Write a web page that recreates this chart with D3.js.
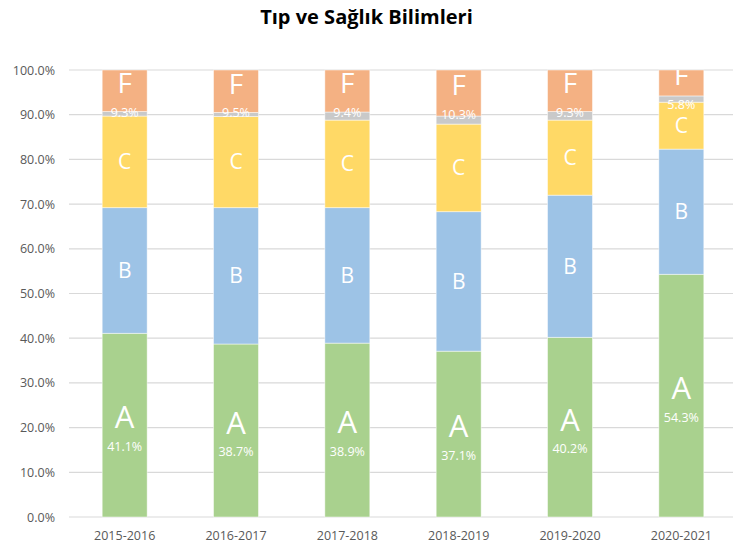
<!DOCTYPE html>
<html><head><meta charset="utf-8">
<script src="https://cdn.jsdelivr.net/npm/d3@7"></script>
<style>body{margin:0;background:#fff;}svg{display:block;}</style>
</head><body>
<svg id="chart" width="733" height="553"></svg>
<script>
const title = "Tıp ve Sağlık Bilimleri";
const categories = ["2015-2016","2016-2017","2017-2018","2018-2019","2019-2020","2020-2021"];
const seriesNames = ["A","B","C","D","F"];
const seriesA = [41.1, 38.7, 38.9, 37.1, 40.2, 54.3];
const seriesB = [28.1, 30.5, 30.3, 31.2, 31.8, 28.0];
const seriesC = [20.5, 20.4, 19.6, 19.6, 16.8, 10.5];
const seriesD = [1.0, 0.9, 1.8, 1.8, 1.9, 1.4];
const seriesF = [9.3, 9.5, 9.4, 10.3, 9.3, 5.8];
const yTicks = [0,10,20,30,40,50,60,70,80,90,100];
const colors = ["#a9d18e","#9dc3e6","#ffd966","#c9c9c9","#f4b183"];

const svg = d3.select("#chart");
const W = 733, H = 553;
const plot = {left: 69, right: 737, top: 70, bottom: 517};

const x = d3.scaleBand().domain(categories).range([plot.left, plot.right]).paddingInner(0.596).paddingOuter(0.298);
const y = d3.scaleLinear().domain([0, 100]).range([plot.bottom, plot.top]);

const table = categories.map((c, i) => ({cat: c, A: seriesA[i], B: seriesB[i], C: seriesC[i], D: seriesD[i], F: seriesF[i]}));
const stacked = d3.stack().keys(seriesNames)(table);

// title
svg.append("text").attr("x", W/2).attr("y", 24).attr("text-anchor", "middle")
  .attr("font-family", "'Open Sans', sans-serif").attr("font-weight", "bold").attr("font-size", 20)
  .attr("fill", "#000").text(title);

// gridlines
svg.append("g").selectAll("line").data(yTicks).join("line")
  .attr("x1", plot.left).attr("x2", plot.right)
  .attr("y1", d => y(d)).attr("y2", d => y(d))
  .attr("stroke", "#d9d9d9").attr("stroke-width", 1.2);

// y axis labels
const yAxis = d3.axisLeft(y).tickValues(yTicks).tickFormat(d => d.toFixed(1) + "%").tickSize(0).tickPadding(14);
const ya = svg.append("g").attr("transform", `translate(${plot.left},0)`).call(yAxis);
ya.select(".domain").remove();
ya.selectAll("text").attr("font-family", "'Open Sans', sans-serif").attr("font-size", 12.5).attr("fill", "#595959");

// x axis labels
const xAxis = d3.axisBottom(x).tickSize(0).tickPadding(14);
const xa = svg.append("g").attr("transform", `translate(0,${plot.bottom})`).call(xAxis);
xa.select(".domain").remove();
xa.selectAll("text").attr("font-family", "'Open Sans', sans-serif").attr("font-size", 12.5).attr("fill", "#595959");

// bars
svg.append("g").selectAll("g").data(stacked).join("g")
  .attr("fill", (d, i) => colors[i])
  .selectAll("rect").data(d => d).join("rect")
  .attr("x", d => x(d.data.cat)).attr("width", x.bandwidth())
  .attr("y", d => y(d[1])).attr("height", d => y(d[0]) - y(d[1]))
  .attr("stroke", "rgba(255,255,255,0.6)").attr("stroke-width", 0.8);

// labels
svg.append("defs").append("clipPath").attr("id", "pclip").append("rect")
  .attr("x", 0).attr("y", plot.top).attr("width", W).attr("height", plot.bottom - plot.top);
const lg = svg.append("g").attr("clip-path", "url(#pclip)")
  .attr("font-family", "'Open Sans', sans-serif").attr("fill", "#fff").attr("text-anchor", "middle");

stacked.forEach((s, si) => {
  const key = s.key;
  if (key === "D") return;
  s.forEach(d => {
    const cx = x(d.data.cat) + x.bandwidth() / 2;
    const cy = (y(d[0]) + y(d[1])) / 2;
    if (key === "A" || key === "F") {
      lg.append("text").attr("x", cx).attr("y", cy - 7.5).attr("dy", "0.35em")
        .attr("font-size", key === "A" ? 31 : 28).text(key);
      lg.append("text").attr("x", cx).attr("y", cy + 21.5).attr("dy", "0.35em")
        .attr("font-size", 12.5).text(d.data[key].toFixed(1) + "%");
    } else {
      lg.append("text").attr("x", cx).attr("y", cy).attr("dy", "0.35em")
        .attr("font-size", 21).text(key);
    }
  });
});
</script>
</body></html>
